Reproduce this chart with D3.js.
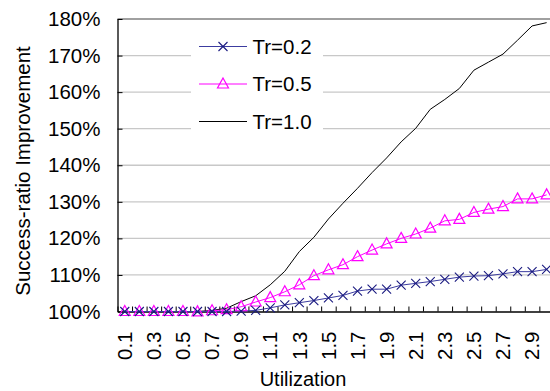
<!DOCTYPE html>
<html><head><meta charset="utf-8">
<script src="https://cdn.jsdelivr.net/npm/d3@7"></script>
<style>body{margin:0;background:#fff}svg{display:block}text{font-family:"Liberation Sans",Arial,sans-serif}</style>
</head><body><svg id="c" width="550" height="391"></svg>
<script>
const categories = ["0.1","0.2","0.3","0.4","0.5","0.6","0.7","0.8","0.9","1.0","1.1","1.2","1.3","1.4","1.5","1.6","1.7","1.8","1.9","2.0","2.1","2.2","2.3","2.4","2.5","2.6","2.7","2.8","2.9","3.0"];
const tr02 = [100,100,100,100,100,100,100,100,100.1,100.3,101.0,101.8,102.4,103.0,103.7,104.4,105.6,106.1,106.1,107.2,107.7,108.2,108.8,109.4,109.7,109.8,110.3,110.9,110.9,111.5];
const tr05 = [100,100,100,100,100,99.9,100.2,100.5,101.3,102.6,103.8,105.4,107.3,109.8,111.4,112.8,115.0,116.8,118.5,120.0,121.2,122.8,124.8,125.2,127.1,128.0,128.7,130.8,130.8,131.9];
const tr10 = [100,100,100,100,100,100,100.3,100.9,102.7,104.3,107.3,111.0,116.4,120.3,125.3,129.6,133.7,138.0,142.0,146.4,150.1,155.3,158.0,161.0,166.0,168.2,170.4,174.2,178.1,179.0];
const yTicks = [100,110,120,130,140,150,160,170,180];
const xTickLabels = ["0.1","0.3","0.5","0.7","0.9","1.1","1.3","1.5","1.7","1.9","2.1","2.3","2.5","2.7","2.9"];
const seriesNames = ["Tr=0.2","Tr=0.5","Tr=1.0"];

const svg = d3.select("#c");
const L = 117.5, R = 553.9, T = 19, B = 311.5;
const x = d3.scaleBand().domain(categories).range([L, R]).padding(0);
const xb = d3.scaleLinear().domain([0, categories.length]).range([L, R]);
const y = d3.scaleLinear().domain([100, 180]).range([B, T]);
const cx = d => x(d) + x.bandwidth() / 2;

// gridlines
svg.append("g").selectAll("line").data(yTicks.slice(1)).join("line")
  .attr("x1", L).attr("x2", 560).attr("y1", d => y(d)).attr("y2", d => y(d))
  .attr("stroke", d => d === 180 ? "#a0a0a0" : "#c8c8c8")
  .attr("stroke-width", d => d === 180 ? 2 : 1.3);

// y axis
const ya = svg.append("g").attr("transform", `translate(${L},0)`)
  .call(d3.axisLeft(y).tickValues(yTicks).tickSize(0).tickPadding(17).tickFormat(d => d + "%"));
ya.select(".domain").attr("stroke", "#000").attr("stroke-width", 1.3);
ya.selectAll("text").attr("font-size", 20.5).attr("fill", "#000").attr("font-family", "Liberation Sans, Arial, sans-serif");
svg.append("g").attr("transform", `translate(${L},0)`)
  .call(d3.axisRight(y).tickValues(yTicks).tickSize(5).tickFormat(""))
  .call(g => g.select(".domain").remove())
  .selectAll("line").attr("stroke", "#000");

// x axis boundary ticks
const xa = svg.append("g").attr("transform", `translate(0,${B})`)
  .call(d3.axisTop(xb).tickValues(d3.range(0, categories.length + 1)).tickSize(5).tickFormat("").tickSizeOuter(0));
xa.select(".domain").attr("stroke", "#000").attr("stroke-width", 1.5);
xa.selectAll("line").attr("stroke", "#000");

// x labels
svg.append("g").selectAll("text").data(xTickLabels).join("text")
  .attr("transform", d => `translate(${cx(d)},${B + 20}) rotate(-90)`)
  .attr("text-anchor", "end").attr("dy", "0.35em")
  .attr("font-size", 20.5).attr("fill", "#000").text(d => d);

// axis titles
svg.append("text").attr("x", 303).attr("y", 386).attr("text-anchor", "middle")
  .attr("font-size", 20).text("Utilization");
svg.append("text").attr("transform", "translate(30,171) rotate(-90)").attr("text-anchor", "middle")
  .attr("font-size", 20.5).text("Success-ratio Improvement");

const line = d3.line().x((d, i) => cx(categories[i])).y(d => y(d));
const col02 = "#3c3ca0", mk02 = "#1a1a80", col05 = "#ff00ff", col10 = "#000";

// lines
svg.append("path").datum(tr10).attr("d", line).attr("fill", "none").attr("stroke", col10).attr("stroke-width", 1);
svg.append("path").datum(tr05).attr("d", line).attr("fill", "none").attr("stroke", col05).attr("stroke-width", 1);
svg.append("path").datum(tr02).attr("d", line).attr("fill", "none").attr("stroke", col02).attr("stroke-width", 1);

const tri = (px, py) => `M${px},${py - 6}L${px + 5.5},${py + 4}L${px - 5.5},${py + 4}Z`;
const cross = (px, py) => `M${px - 4.5},${py - 4.5}L${px + 4.5},${py + 4.5}M${px - 4.5},${py + 4.5}L${px + 4.5},${py - 4.5}`;

svg.append("g").selectAll("path").data(tr05).join("path")
  .attr("d", (d, i) => tri(cx(categories[i]), y(d)))
  .attr("fill", "none").attr("stroke", col05).attr("stroke-width", 1.2);
svg.append("g").selectAll("path").data(tr02).join("path")
  .attr("d", (d, i) => cross(cx(categories[i]), y(d)))
  .attr("fill", "none").attr("stroke", mk02).attr("stroke-width", 1.1);

// legend
const lg = svg.append("g");
lg.append("rect").attr("x", 191).attr("y", 30).attr("width", 132).attr("height", 120).attr("fill", "#fff");
const rows = [46.5, 84, 121.5];
const lcols = [col02, col05, col10];
seriesNames.forEach((n, i) => {
  lg.append("line").attr("x1", 199).attr("x2", 247).attr("y1", rows[i]).attr("y2", rows[i])
    .attr("stroke", lcols[i]).attr("stroke-width", 1);
  if (i === 0) lg.append("path").attr("d", cross(223, rows[i])).attr("stroke", mk02).attr("fill", "none").attr("stroke-width", 1.1);
  if (i === 1) lg.append("path").attr("d", tri(223, rows[i])).attr("stroke", col05).attr("fill", "none").attr("stroke-width", 1.2);
  lg.append("text").attr("x", 252.5).attr("y", rows[i]).attr("dy", "0.35em")
    .attr("font-size", 20.5).text(n);
});
</script></body></html>
